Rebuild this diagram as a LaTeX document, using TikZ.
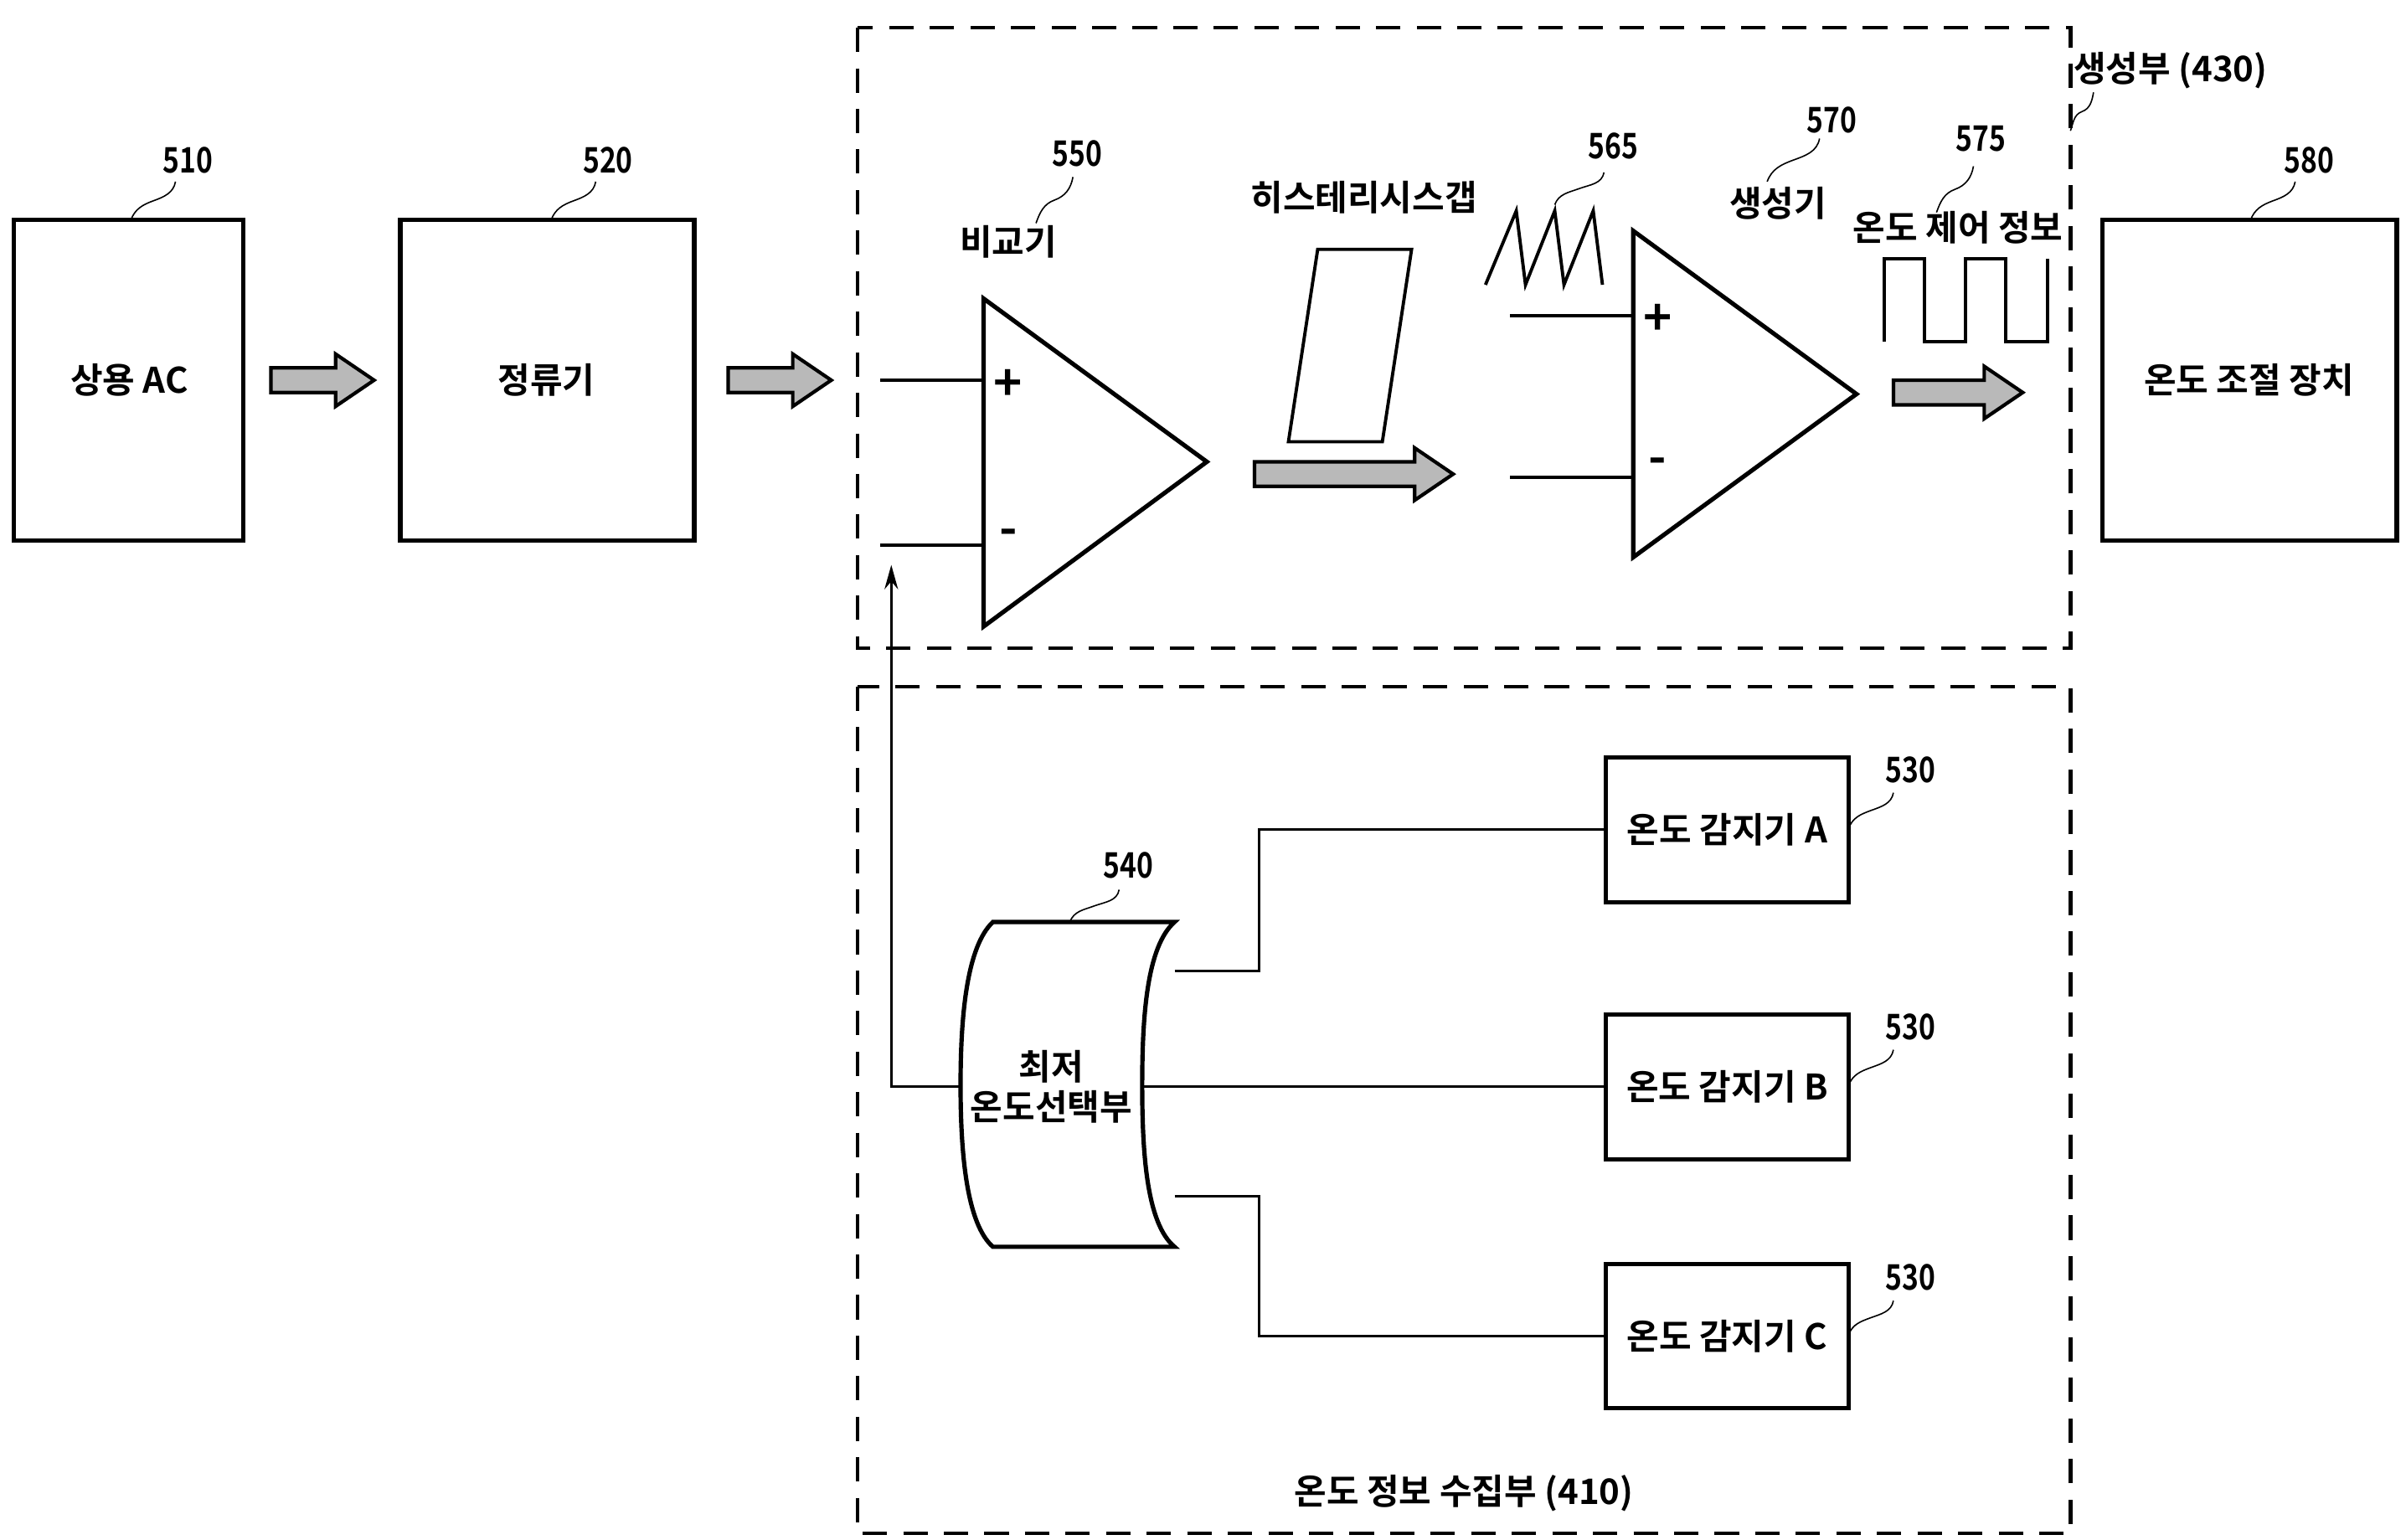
\documentclass[tikz,border=0pt]{standalone}
\usepackage{fontspec}
\setmainfont{Noto Sans CJK KR}[BoldFont={Noto Sans CJK KR Bold}]
\usetikzlibrary{arrows.meta,calc}
\begin{document}
\begin{tikzpicture}[x=0.02cm,y=-0.02cm,
  box/.style={draw,line width=1.6pt,inner sep=0},
  lab/.style={font=\fontsize{13}{15}\selectfont\bfseries,inner sep=1pt},
  num/.style={font=\fontsize{13}{15}\selectfont\bfseries,inner sep=1pt,xscale=0.8},
  sign/.style={font=\fontsize{18}{20}\selectfont\bfseries,inner sep=0},
  wire/.style={line width=0.9pt},
  dbox/.style={draw,line width=1.4pt,dash pattern=on 9pt off 6pt},
  fat/.style={draw,line width=1.3pt,fill=gray!55},
  sq/.style={line width=0.5pt}]
\useasboundingbox (0,0) rectangle (1563,1000);
\newcommand\fatarr[3]{\draw[fat] (#1,#3-8) -- (#2-25,#3-8) -- (#2-25,#3-17) -- (#2,#3) -- (#2-25,#3+17) -- (#2-25,#3+8) -- (#1,#3+8) -- cycle;}
\newcommand\squig[2]{\draw[sq] (#1) to[out=70,in=200] ($(#1)!0.5!(#2)$) to[out=20,in=260] (#2);}
% top boxes
\draw[box] (9,143) rectangle (158,351);
\node[lab] (ac) at (84,247) {상용 AC};
\draw[box] (260,143) rectangle (451,351);
\node[lab] (rect) at (355,247) {정류기};
\draw[box] (1366,143) rectangle (1557,351);
\node[lab] (ctl) at (1461,247) {온도 조절 장치};
\node[num] (n510) at (122,104) {510};
\node[num] (n520) at (395,104) {520};
\node[num] (n580) at (1500,104) {580};
\squig{85,143}{114,118}
\squig{358,143}{387,118}
\squig{1462,143}{1491,118}
\fatarr{176}{243}{247}
\fatarr{473}{540}{247}
\fatarr{815}{944}{308}
\fatarr{1230}{1314}{255}
% dashed regions
\draw[dbox] (557,18) rectangle (1345,421);
\draw[dbox] (557,446) rectangle (1345,996);
\node[lab] (g430) at (1410,46) {생성부 (430)};
\squig{1345,85}{1360,60}
\node[lab] (g410) at (951,970) {온도 정보 수집부 (410)};
% comparator
\draw[line width=1.6pt] (639,194) -- (784,300) -- (639,407) -- cycle;
\node[sign] at (655,250) {+};
\node[sign] at (655,349) {-};
\coordinate (cpin) at (639,247); \coordinate (cmin) at (639,354);
\draw[line width=1.2pt] (572,247) -- (cpin);
\draw[line width=1.2pt] (572,354) -- (cmin);
\node[lab] (cmp) at (655,157) {비교기};
\node[num] (n550) at (700,100) {550};
\squig{673,145}{697,115}
% hysteresis
\node[lab] (hys) at (886,128) {히스테리시스갭};
\draw[line width=1.2pt] (856,162) -- (917,162) -- (898,287) -- (837,287) -- cycle;
% sawtooth
\draw[line width=1.2pt] (965,185) -- (985,137) -- (991,185) -- (1010,137) -- (1016,185) -- (1035,137) -- (1041,185);
\node[num] (n565) at (1048,95) {565};
\squig{1010,133}{1042,112}
% generator
\draw[line width=1.6pt] (1061,150) -- (1206,256) -- (1061,362) -- cycle;
\node[sign] at (1077,208) {+};
\node[sign] at (1077,303) {-};
\coordinate (gpin) at (1061,205); \coordinate (gmin) at (1061,310);
\draw[line width=1.2pt] (981,205) -- (gpin);
\draw[line width=1.2pt] (981,310) -- (gmin);
\node[lab] (gen) at (1155,132) {생성기};
\node[num] (n570) at (1190,78) {570};
\squig{1148,118}{1182,90}
\node[lab] (info) at (1272,148) {온도 제어 정보};
\node[num] (n575) at (1287,90) {575};
\squig{1258,138}{1282,108}
\draw[line width=1.2pt] (1224,222) -- (1224,168) -- (1250,168) -- (1250,222) -- (1277,222) -- (1277,168) -- (1303,168) -- (1303,222) -- (1330,222) -- (1330,168);
% lowest temperature selector
\draw[line width=1.6pt] (645,599) -- (763,599)
  .. controls (745,615) and (742,660) .. (742,705)
  .. controls (742,750) and (745,795) .. (763,810) -- (645,810)
  .. controls (628,795) and (624,750) .. (624,705)
  .. controls (624,660) and (628,615) .. (645,599) -- cycle;
\node[lab,align=center] (sel) at (683,706) {최저\\온도선택부};
\node[num] (n540) at (733,562) {540};
\squig{695,599}{727,578}
\coordinate (selL) at (624,706);
\coordinate (selA) at (763,631); \coordinate (selB) at (742,706); \coordinate (selC) at (763,777);
% sensors
\node[box,minimum width=158*0.02cm,minimum height=94*0.02cm,lab] (sA) at (1122,539) {온도 감지기 A};
\node[box,minimum width=158*0.02cm,minimum height=94*0.02cm,lab] (sB) at (1122,706) {온도 감지기 B};
\node[box,minimum width=158*0.02cm,minimum height=94*0.02cm,lab] (sC) at (1122,868) {온도 감지기 C};
\node[num] at (1241,500) {530};
\node[num] at (1241,667) {530};
\node[num] at (1241,830) {530};
\squig{1201,538}{1230,515}
\squig{1201,705}{1230,682}
\squig{1201,867}{1230,845}
\draw[wire] (selA) -- (818,631) |- (sA.west);
\draw[wire] (selB) -- (sB.west);
\draw[wire] (selC) -- (818,777) |- (sC.west);
\draw[wire,-{Stealth[length=9pt,width=5pt]}] (selL) -- (579,706) -- (579,367);
\end{tikzpicture}
\end{document}
